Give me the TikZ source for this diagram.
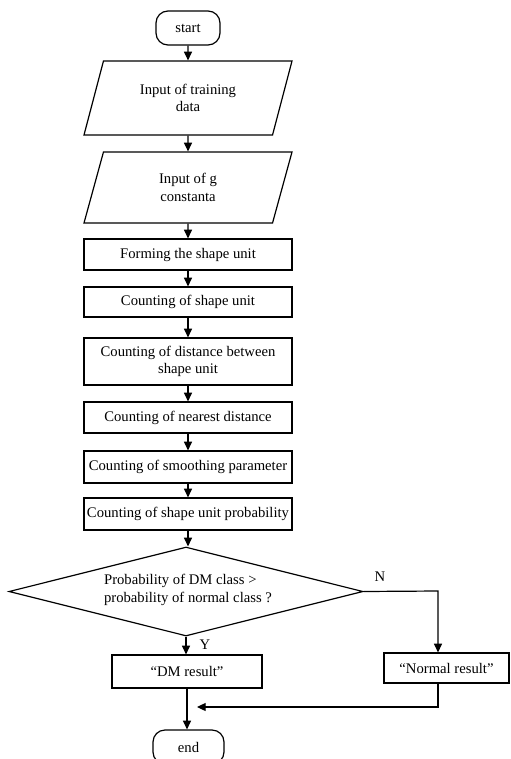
\documentclass[tikz,border=0pt]{standalone}
\usepackage{fontspec}
\setmainfont{Liberation Serif}
\usetikzlibrary{shapes.geometric,arrows.meta}
\begin{document}
\begin{tikzpicture}[x=0.75pt,y=-0.75pt,
  every node/.style={font=\fontsize{11}{13}\selectfont},
  line/.style={draw=black, line width=0.9pt},
  arr/.style={line, -{Triangle[length=6.5pt,width=6pt]}},
  procbox/.style={draw, line width=0.9pt, minimum width=156pt, minimum height=23.25pt, inner sep=1pt, align=center},
  term/.style={draw, line width=0.9pt, rounded corners=9pt, minimum height=25.5pt, inner sep=0pt},
  io/.style={trapezium, trapezium left angle=55, trapezium right angle=125, trapezium stretches body, draw, line width=0.9pt, minimum width=156pt, align=center, inner sep=0pt},
  ]
\useasboundingbox (0,0) rectangle (510,759);
\fill[white] (0,0) rectangle (510,759);

\node[term, minimum width=48pt] (start) at (188,28) {start};
\node[io, minimum height=55.5pt] (p1) at (188,98) {Input of training\\data};
\node[io, minimum height=53.25pt] (p2) at (188,187.5) {Input of g\\constanta};
\node[procbox] (b1) at (188,254.5) {Forming the shape unit};
\node[procbox, minimum height=22.5pt] (b2) at (188,302) {Counting of shape unit};
\node[procbox, minimum height=35.25pt] (b3) at (188,361.5) {Counting of distance between\\shape unit};
\node[procbox] (b4) at (188,417.5) {Counting of nearest distance};
\node[procbox, minimum height=24pt] (b5) at (188,467) {Counting of smoothing parameter};
\node[procbox, minimum height=24pt] (b6) at (188,514) {Counting of shape unit probability};
\node[diamond, draw, line width=0.9pt, minimum width=265.5pt, minimum height=66.75pt, inner sep=0pt] (d) at (186,591.5) {};
\node[align=left] (dtext) at (188,590) {Probability of DM class >\\probability of normal class ?};
\node[procbox, minimum width=112.5pt, minimum height=24.75pt] (dm) at (187,671.5) {“DM result”};
\node[procbox, minimum width=93.75pt, minimum height=22.5pt] (nr) at (446.5,668) {“Normal result”};
\node[term, minimum width=53.25pt] (end) at (188.5,747) {end};
\node (ylab) at (205,645) {Y};
\node (nlab) at (380,577) {N};

\coordinate (nturn) at (438,591);
\coordinate (rturn) at (438,707);
\coordinate (rend) at (197,707);

\draw[arr] (start) -- (p1);
\draw[arr] (p1) -- (p2);
\draw[arr] (p2) -- (b1);
\draw[arr] (b1) -- (b2);
\draw[arr] (b2) -- (b3);
\draw[arr] (b3) -- (b4);
\draw[arr] (b4) -- (b5);
\draw[arr] (b5) -- (b6);
\draw[arr] (b6.south) -- (b6.south |- d.north);
\draw[arr] (d.south) -- (d.south |- dm.north);
\draw[arr] (d.east) -- (nturn) -- (nturn |- nr.north);
\draw[arr] (nturn |- nr.south) -- (rturn) -- (rend);
\draw[arr] (dm.south) -- (dm.south |- end.north);
\end{tikzpicture}
\end{document}
